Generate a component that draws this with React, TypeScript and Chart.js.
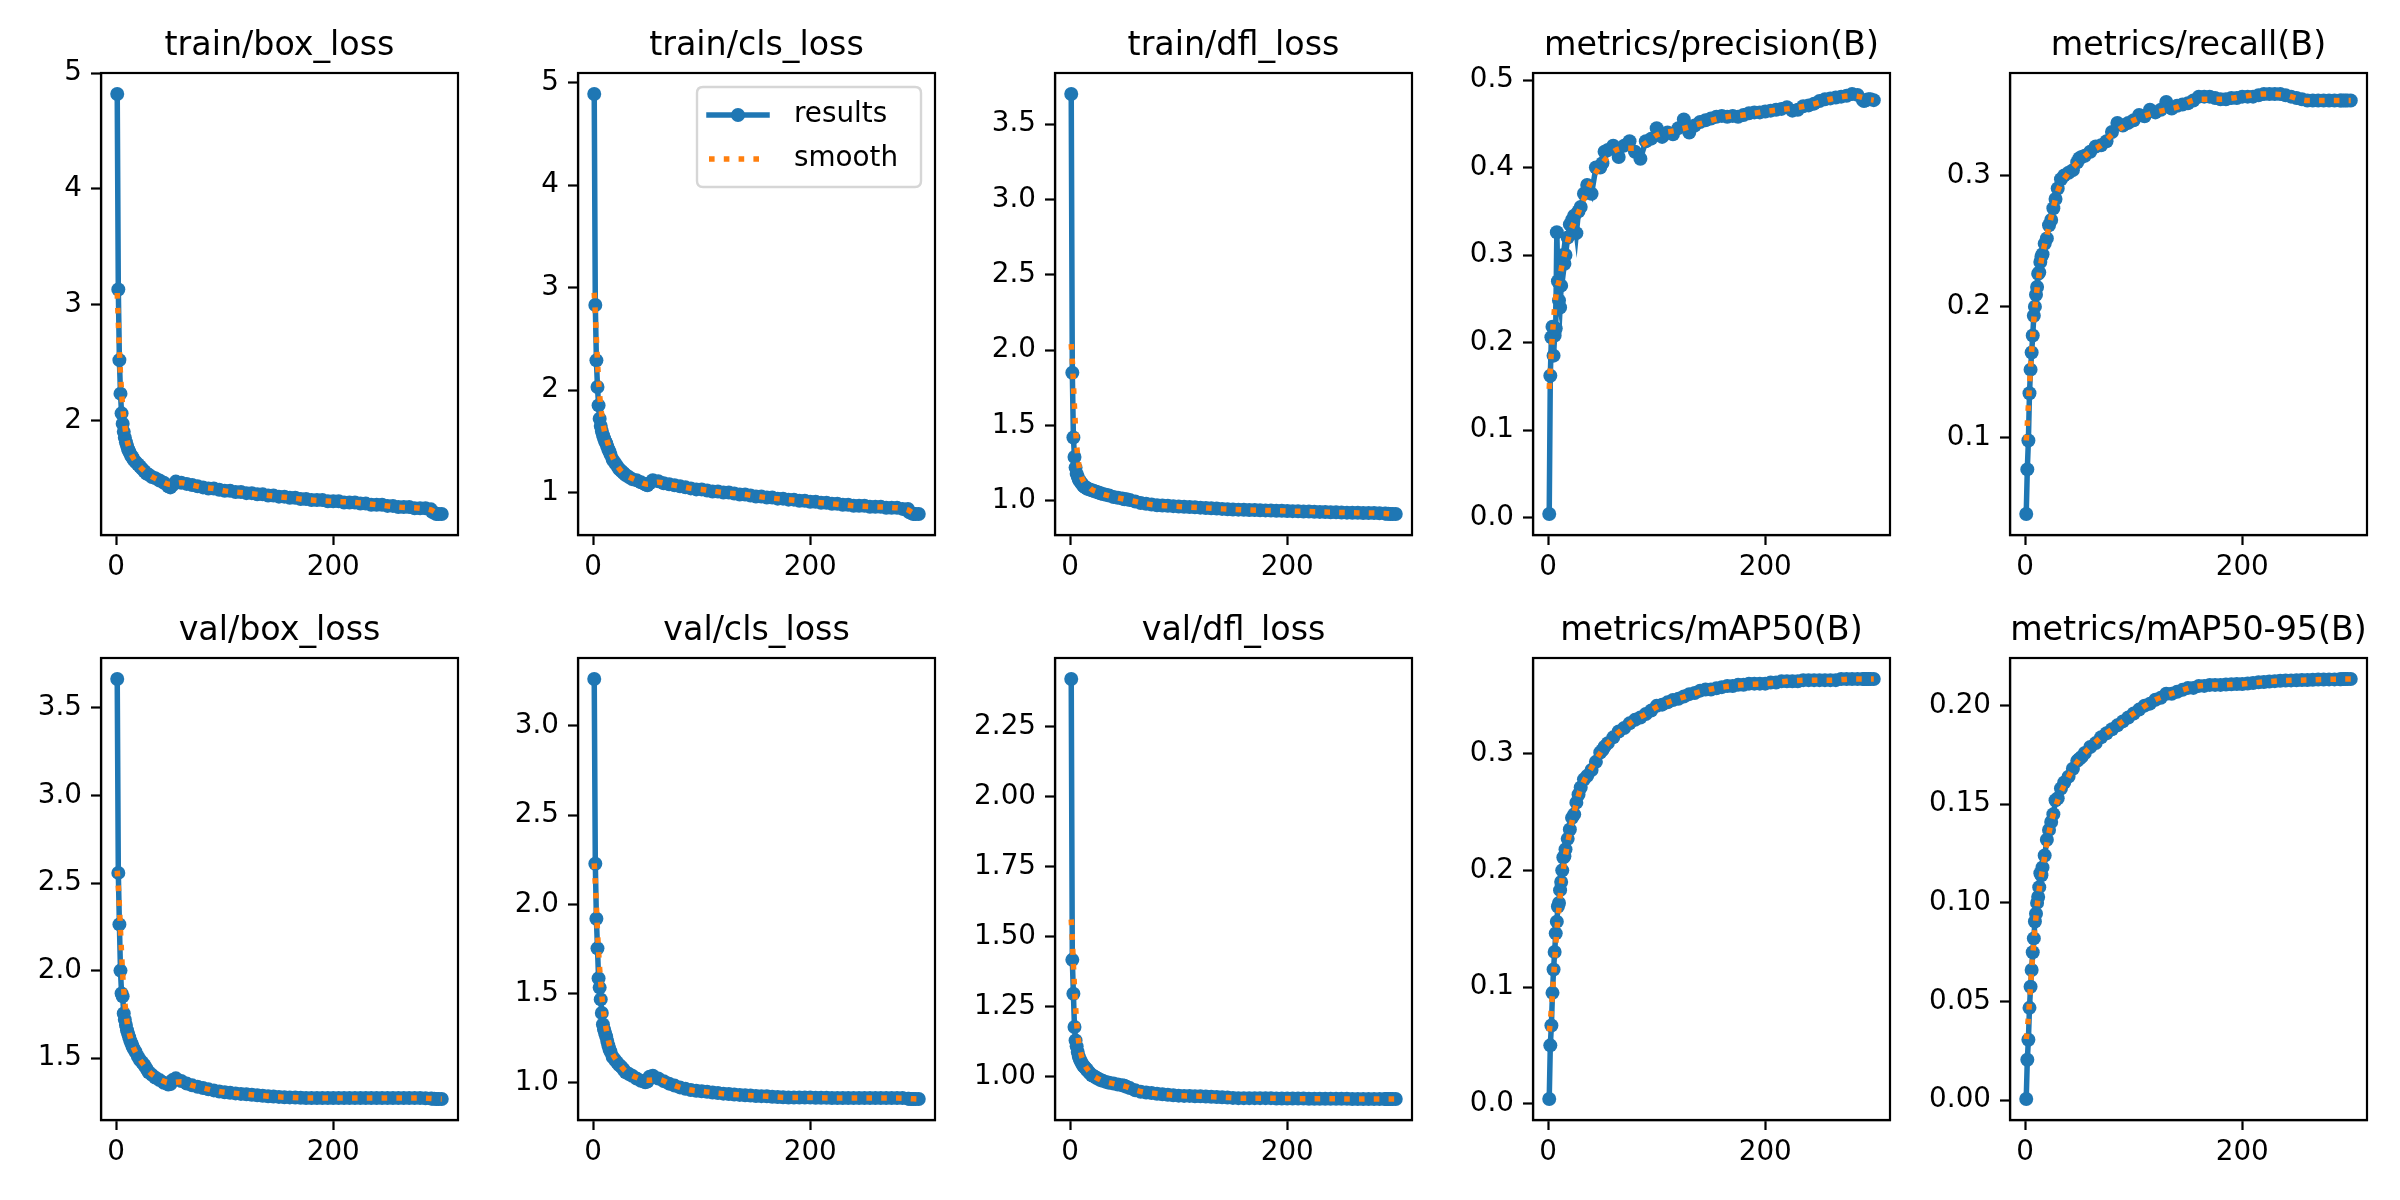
import React, { useEffect, useRef } from "react";
import { Chart, registerables } from "chart.js";

Chart.register(...registerables);
Chart.defaults.font.family = "'DejaVu Sans', sans-serif";

// ---------------- data ----------------
const EPOCHS = [
  1, 2, 3, 4, 5, 6, 7, 8, 9, 10, 11, 12, 13, 14, 15, 16,
  18, 20, 22, 24, 26, 28, 30,
  33, 36, 40, 44, 48, 50, 52, 55,
  60, 65, 70, 75, 80, 85, 90, 95, 100,
  105, 110, 115, 120, 125, 130, 135, 140, 145, 150,
  155, 160, 165, 170, 175, 180, 185, 190, 195, 200,
  205, 210, 215, 220, 225, 230, 235, 240, 245, 250,
  255, 260, 265, 270, 275, 280, 285, 290,
  291, 293, 295, 297, 300,
];

const SMOOTH_EPOCHS = [
  1, 2, 3, 4, 5, 6,
  8, 10, 13, 16, 20, 25, 30,
  40, 50, 60, 70, 80, 90, 100,
  120, 140, 160, 180, 200, 220, 240, 260, 280,
  290, 295, 300,
];

const TRAIN_BOX = [
  4.82, 3.13, 2.52, 2.23, 2.06, 1.97, 1.9, 1.85, 1.81, 1.78, 1.75, 1.73, 1.71, 1.69, 1.68, 1.66,
  1.64, 1.62, 1.6, 1.58, 1.56, 1.54, 1.53,
  1.51, 1.5, 1.48, 1.46, 1.43, 1.42, 1.44, 1.47,
  1.46, 1.45, 1.44, 1.43, 1.42, 1.41, 1.41, 1.4, 1.39,
  1.39, 1.38, 1.38, 1.37, 1.37, 1.36, 1.36, 1.35, 1.35, 1.34,
  1.34, 1.33, 1.33, 1.32, 1.32, 1.31, 1.31, 1.31, 1.3, 1.3,
  1.3, 1.29, 1.29, 1.29, 1.28, 1.28, 1.27, 1.27, 1.27, 1.26,
  1.26, 1.25, 1.25, 1.25, 1.24, 1.24, 1.24, 1.23,
  1.21, 1.2, 1.19, 1.19, 1.19,
];
const TRAIN_BOX_SMOOTH = [
  3.1, 2.85, 2.6, 2.4, 2.25, 2.12,
  1.95, 1.83, 1.73, 1.67, 1.62, 1.57, 1.53,
  1.48, 1.445, 1.46, 1.44, 1.42, 1.41, 1.39,
  1.37, 1.35, 1.33, 1.31, 1.3, 1.29, 1.27, 1.25, 1.24,
  1.225, 1.2, 1.19,
];

const TRAIN_CLS = [
  4.89, 2.83, 2.29, 2.03, 1.85, 1.72, 1.65, 1.6, 1.56, 1.53, 1.5, 1.48, 1.45, 1.42, 1.4, 1.37,
  1.32, 1.29, 1.26, 1.23, 1.21, 1.19, 1.17,
  1.15, 1.13, 1.12, 1.1, 1.08, 1.07, 1.09, 1.12,
  1.11, 1.09, 1.08, 1.07, 1.06, 1.05, 1.04, 1.03, 1.03,
  1.02, 1.01, 1.01, 1.0, 1.0, 0.99, 0.98, 0.98, 0.97, 0.96,
  0.96, 0.95, 0.95, 0.94, 0.94, 0.93, 0.93, 0.92, 0.92, 0.91,
  0.91, 0.9, 0.9, 0.89, 0.89, 0.88, 0.88, 0.87, 0.87, 0.87,
  0.86, 0.86, 0.86, 0.85, 0.85, 0.85, 0.84, 0.84,
  0.81, 0.8, 0.79, 0.79, 0.79,
];
const TRAIN_CLS_SMOOTH = [
  2.95, 2.75, 2.5, 2.28, 2.1, 1.95,
  1.75, 1.62, 1.5, 1.4, 1.3, 1.22, 1.17,
  1.12, 1.08, 1.1, 1.08, 1.06, 1.04, 1.03,
  1.0, 0.98, 0.95, 0.93, 0.91, 0.89, 0.87, 0.86, 0.85,
  0.83, 0.8, 0.79,
];

const TRAIN_DFL = [
  3.7, 1.85, 1.42, 1.29, 1.22, 1.18, 1.16, 1.14, 1.13, 1.12, 1.11, 1.1, 1.095, 1.09, 1.085, 1.08,
  1.075, 1.07, 1.065, 1.06, 1.055, 1.05, 1.045,
  1.04, 1.035, 1.025, 1.02, 1.015, 1.01, 1.01, 1.005,
  0.995, 0.985, 0.98, 0.975, 0.97, 0.968, 0.966, 0.964, 0.962,
  0.96, 0.958, 0.956, 0.954, 0.952, 0.95, 0.948, 0.946, 0.944, 0.942,
  0.941, 0.94, 0.939, 0.938, 0.937, 0.936, 0.935, 0.934, 0.933, 0.932,
  0.931, 0.93, 0.929, 0.928, 0.927, 0.926, 0.925, 0.924, 0.923, 0.922,
  0.921, 0.92, 0.92, 0.919, 0.918, 0.918, 0.917, 0.916,
  0.914, 0.913, 0.912, 0.912, 0.912,
];
const TRAIN_DFL_SMOOTH = [
  2.04, 1.93, 1.78, 1.62, 1.48, 1.37,
  1.24, 1.17, 1.12, 1.1, 1.075, 1.058, 1.045,
  1.025, 1.01, 0.995, 0.98, 0.97, 0.966, 0.962,
  0.954, 0.946, 0.94, 0.936, 0.932, 0.928, 0.924, 0.92, 0.918,
  0.915, 0.913, 0.912,
];

const PRECISION = [
  0.004, 0.162, 0.206, 0.218, 0.185, 0.208, 0.216, 0.326, 0.27, 0.248, 0.24, 0.265, 0.29, 0.3, 0.29, 0.3,
  0.32, 0.335, 0.34, 0.345, 0.325, 0.35, 0.355,
  0.37, 0.38, 0.37, 0.4, 0.4, 0.405, 0.418, 0.42,
  0.425, 0.412, 0.425, 0.43, 0.418, 0.41, 0.43, 0.433, 0.445,
  0.435, 0.44, 0.438, 0.445, 0.455, 0.44, 0.448, 0.452, 0.454, 0.456,
  0.458, 0.459, 0.458, 0.459, 0.458, 0.46, 0.462, 0.463, 0.463, 0.464,
  0.465, 0.466, 0.467, 0.469, 0.465, 0.466, 0.47, 0.471, 0.473, 0.476,
  0.478, 0.479, 0.48, 0.481, 0.482, 0.484, 0.483, 0.477,
  0.476, 0.477, 0.478, 0.478, 0.477,
];
const PRECISION_SMOOTH = [
  0.147, 0.17, 0.19, 0.21, 0.225, 0.24,
  0.26, 0.27, 0.29, 0.305, 0.325, 0.34, 0.355,
  0.385, 0.405, 0.418, 0.422, 0.422, 0.428, 0.437,
  0.443, 0.45, 0.457, 0.46, 0.464, 0.467, 0.471, 0.478, 0.482,
  0.48, 0.478, 0.477,
];

const RECALL = [
  0.042, 0.076, 0.098, 0.134, 0.152, 0.165, 0.178, 0.193, 0.2, 0.209, 0.215, 0.225, 0.226, 0.234, 0.238, 0.24,
  0.248, 0.252, 0.262, 0.266, 0.275, 0.282, 0.29,
  0.297, 0.3, 0.302, 0.304, 0.31, 0.313, 0.314, 0.315,
  0.318, 0.322, 0.323, 0.326, 0.333, 0.34, 0.338, 0.34, 0.342,
  0.346, 0.345, 0.35, 0.348, 0.35, 0.356, 0.351, 0.353, 0.354, 0.355,
  0.357, 0.36, 0.36, 0.36, 0.359, 0.358, 0.358, 0.359, 0.359, 0.36,
  0.36, 0.36, 0.361, 0.362, 0.362, 0.362, 0.362, 0.361, 0.36, 0.359,
  0.358, 0.357, 0.357, 0.357, 0.357, 0.357, 0.357, 0.357,
  0.357, 0.357, 0.357, 0.357, 0.357,
];
const RECALL_SMOOTH = [
  0.098, 0.11, 0.125, 0.14, 0.153, 0.166,
  0.19, 0.207, 0.225, 0.24, 0.254, 0.272, 0.288,
  0.302, 0.311, 0.318, 0.323, 0.331, 0.337, 0.342,
  0.348, 0.352, 0.358, 0.358, 0.36, 0.362, 0.361, 0.357, 0.357,
  0.357, 0.357, 0.357,
];

const VAL_BOX = [
  3.665, 2.558, 2.264, 2.0, 1.87, 1.853, 1.755, 1.72, 1.69, 1.66, 1.64, 1.62, 1.6, 1.585, 1.57, 1.555,
  1.535, 1.51, 1.49, 1.475, 1.46, 1.44, 1.42,
  1.405, 1.39, 1.375, 1.36, 1.35, 1.352, 1.375, 1.385,
  1.37, 1.355, 1.345, 1.337, 1.33, 1.322, 1.316, 1.31, 1.305,
  1.302, 1.299, 1.296, 1.294, 1.291, 1.288, 1.285, 1.283, 1.281, 1.279,
  1.277, 1.276, 1.275, 1.274, 1.273, 1.272, 1.272, 1.272, 1.272, 1.272,
  1.272, 1.272, 1.272, 1.272, 1.272, 1.272, 1.272, 1.272, 1.272, 1.272,
  1.272, 1.272, 1.272, 1.272, 1.272, 1.272, 1.271, 1.27,
  1.269, 1.268, 1.267, 1.267, 1.267,
];
const VAL_BOX_SMOOTH = [
  2.57, 2.48, 2.37, 2.23, 2.1, 1.98,
  1.82, 1.71, 1.62, 1.56, 1.51, 1.465, 1.425,
  1.38, 1.36, 1.365, 1.345, 1.33, 1.316, 1.305,
  1.294, 1.283, 1.276, 1.272, 1.272, 1.272, 1.272, 1.272, 1.272,
  1.27, 1.268, 1.267,
];

const VAL_CLS = [
  3.263, 2.228, 1.92, 1.754, 1.586, 1.534, 1.468, 1.392, 1.328, 1.3, 1.28, 1.26, 1.235, 1.21, 1.19, 1.175,
  1.145, 1.13, 1.115, 1.1, 1.09, 1.075, 1.06,
  1.05, 1.04, 1.025, 1.012, 1.004, 1.008, 1.035, 1.04,
  1.025, 1.01, 0.996, 0.985, 0.975, 0.967, 0.96, 0.956, 0.953,
  0.95, 0.946, 0.943, 0.94, 0.938, 0.935, 0.933, 0.931, 0.929, 0.927,
  0.926, 0.925, 0.923, 0.921, 0.92, 0.918, 0.918, 0.918, 0.918, 0.918,
  0.917, 0.917, 0.917, 0.916, 0.916, 0.916, 0.916, 0.916, 0.916, 0.916,
  0.916, 0.916, 0.915, 0.915, 0.915, 0.915, 0.915, 0.912,
  0.911, 0.91, 0.91, 0.91, 0.91,
];
const VAL_CLS_SMOOTH = [
  2.23, 2.12, 1.99, 1.85, 1.74, 1.64,
  1.49, 1.38, 1.27, 1.19, 1.14, 1.1, 1.065,
  1.03, 1.015, 1.02, 0.998, 0.975, 0.96, 0.953,
  0.94, 0.931, 0.925, 0.918, 0.918, 0.916, 0.916, 0.916, 0.915,
  0.913, 0.911, 0.91,
];

const VAL_DFL = [
  2.419, 1.416, 1.295, 1.176, 1.128, 1.107, 1.087, 1.07, 1.06, 1.052, 1.045, 1.038, 1.034, 1.03, 1.025, 1.021,
  1.012, 1.004, 1.0, 0.995, 0.991, 0.987, 0.984,
  0.98, 0.977, 0.974, 0.971, 0.968, 0.966, 0.963, 0.958,
  0.95, 0.945, 0.942, 0.94, 0.938, 0.936, 0.934, 0.932, 0.931,
  0.93, 0.93, 0.929, 0.929, 0.928, 0.927, 0.926, 0.925, 0.924, 0.923,
  0.922, 0.922, 0.922, 0.922, 0.922, 0.922, 0.922, 0.921, 0.921, 0.921,
  0.921, 0.921, 0.921, 0.92, 0.92, 0.92, 0.92, 0.92, 0.92, 0.92,
  0.92, 0.919, 0.919, 0.919, 0.919, 0.919, 0.919, 0.919,
  0.919, 0.919, 0.919, 0.919, 0.919,
];
const VAL_DFL_SMOOTH = [
  1.56, 1.49, 1.4, 1.32, 1.25, 1.19,
  1.12, 1.08, 1.045, 1.025, 1.006, 0.993, 0.984,
  0.974, 0.965, 0.951, 0.942, 0.938, 0.934, 0.931,
  0.929, 0.925, 0.922, 0.922, 0.921, 0.92, 0.92, 0.919, 0.919,
  0.919, 0.919, 0.919,
];

const MAP50 = [
  0.004, 0.05, 0.067, 0.095, 0.115, 0.13, 0.146, 0.156, 0.169, 0.172, 0.183, 0.19, 0.2, 0.211, 0.212, 0.218,
  0.227, 0.235, 0.245, 0.248, 0.258, 0.265, 0.271,
  0.278, 0.281, 0.286, 0.293, 0.301, 0.303, 0.306, 0.309,
  0.314, 0.319, 0.322, 0.326, 0.329, 0.331, 0.334, 0.337, 0.341,
  0.342, 0.344, 0.346, 0.347, 0.349, 0.351, 0.352, 0.354, 0.355, 0.355,
  0.356, 0.357, 0.358, 0.358, 0.359, 0.359, 0.36, 0.36, 0.36, 0.36,
  0.361, 0.361, 0.362, 0.362, 0.362, 0.362, 0.363, 0.363, 0.363, 0.363,
  0.363, 0.363, 0.363, 0.364, 0.364, 0.364, 0.364, 0.364,
  0.364, 0.364, 0.364, 0.364, 0.364,
];
const MAP50_SMOOTH = [
  0.062, 0.07, 0.082, 0.095, 0.108, 0.122,
  0.148, 0.168, 0.194, 0.213, 0.233, 0.254, 0.27,
  0.288, 0.303, 0.314, 0.322, 0.329, 0.334, 0.34,
  0.347, 0.353, 0.357, 0.359, 0.36, 0.362, 0.363, 0.363, 0.364,
  0.364, 0.364, 0.364,
];

const MAP50_95 = [
  0.0006, 0.0205, 0.0306, 0.0468, 0.0575, 0.066, 0.075, 0.082, 0.0906, 0.0945, 0.1, 0.103, 0.108, 0.115, 0.114, 0.118,
  0.124, 0.132, 0.137, 0.141, 0.145, 0.152, 0.153,
  0.158, 0.161, 0.164, 0.168, 0.172, 0.173, 0.174, 0.176,
  0.179, 0.181, 0.184, 0.186, 0.188, 0.19, 0.192, 0.194, 0.196,
  0.198, 0.2, 0.201, 0.203, 0.204, 0.206, 0.206, 0.207, 0.208, 0.209,
  0.209, 0.21, 0.21, 0.2105, 0.2105, 0.2105, 0.2107, 0.2108, 0.211, 0.211,
  0.2112, 0.2115, 0.2118, 0.212, 0.2122, 0.2124, 0.2126, 0.2127, 0.2128, 0.2129,
  0.213, 0.213, 0.2131, 0.2132, 0.2132, 0.2133, 0.2133, 0.2134,
  0.2134, 0.2135, 0.2135, 0.2135, 0.2135,
];
const MAP50_95_SMOOTH = [
  0.031, 0.036, 0.042, 0.05, 0.058, 0.066,
  0.08, 0.093, 0.107, 0.117, 0.13, 0.143, 0.152,
  0.164, 0.173, 0.179, 0.184, 0.188, 0.192, 0.196,
  0.203, 0.207, 0.21, 0.2105, 0.211, 0.212, 0.2127, 0.213, 0.2133,
  0.2134, 0.2135, 0.2135,
];

const TITLES = [
  "train/box_loss", "train/cls_loss", "train/dfl_loss", "metrics/precision(B)", "metrics/recall(B)",
  "val/box_loss", "val/cls_loss", "val/dfl_loss", "metrics/mAP50(B)", "metrics/mAP50-95(B)",
];

const X_TICKS = [0, 200];
const Y_TICKS_TRAIN_BOX = [2, 3, 4, 5];
const Y_TICKS_TRAIN_CLS = [1, 2, 3, 4, 5];
const Y_TICKS_TRAIN_DFL = [1.0, 1.5, 2.0, 2.5, 3.0, 3.5];
const Y_TICKS_PRECISION = [0.0, 0.1, 0.2, 0.3, 0.4, 0.5];
const Y_TICKS_RECALL = [0.1, 0.2, 0.3];
const Y_TICKS_VAL_BOX = [1.5, 2.0, 2.5, 3.0, 3.5];
const Y_TICKS_VAL_CLS = [1.0, 1.5, 2.0, 2.5, 3.0];
const Y_TICKS_VAL_DFL = [1.0, 1.25, 1.5, 1.75, 2.0, 2.25];
const Y_TICKS_MAP50 = [0.0, 0.1, 0.2, 0.3];
const Y_TICKS_MAP50_95 = [0.0, 0.05, 0.1, 0.15, 0.2];
const Y_DECIMALS = [0, 0, 1, 1, 1, 1, 1, 2, 1, 2];

const SERIES = [TRAIN_BOX, TRAIN_CLS, TRAIN_DFL, PRECISION, RECALL, VAL_BOX, VAL_CLS, VAL_DFL, MAP50, MAP50_95];
const SMOOTHS = [
  TRAIN_BOX_SMOOTH, TRAIN_CLS_SMOOTH, TRAIN_DFL_SMOOTH, PRECISION_SMOOTH, RECALL_SMOOTH,
  VAL_BOX_SMOOTH, VAL_CLS_SMOOTH, VAL_DFL_SMOOTH, MAP50_SMOOTH, MAP50_95_SMOOTH,
];
const Y_TICKS = [
  Y_TICKS_TRAIN_BOX, Y_TICKS_TRAIN_CLS, Y_TICKS_TRAIN_DFL, Y_TICKS_PRECISION, Y_TICKS_RECALL,
  Y_TICKS_VAL_BOX, Y_TICKS_VAL_CLS, Y_TICKS_VAL_DFL, Y_TICKS_MAP50, Y_TICKS_MAP50_95,
];

// ---------------- styling / layout ----------------
const BLUE = "#1f77b4";
const ORANGE = "#ff7f0e";
const TICK_FONT = 27.8;
const TITLE_FONT = 33.3;
const LINE_W = 5.5;
const POINT_R = 7;
const AXIS_LEFTS = [101, 578, 1055, 1533, 2010];
const AXIS_W = 357;
const AXIS_H = 462;
const ROW_TOPS = [0, 600]; // canvas tops
const AREA_TOPS = [73, 58]; // chart-area top inside canvas
const Y_AXIS_W = 100;
const X_AXIS_H = 65;
const RIGHT_PAD = 20;

function limits(vals: number[]): [number, number] {
  const lo = Math.min(...vals);
  const hi = Math.max(...vals);
  const m = (hi - lo) * 0.05;
  return [lo - m, hi + m];
}

const spinesPlugin = {
  id: "spines",
  afterDatasetsDraw(chart: any) {
    const { ctx, chartArea: a } = chart;
    ctx.save();
    ctx.strokeStyle = "#000";
    ctx.lineWidth = 2.2;
    ctx.setLineDash([]);
    ctx.strokeRect(a.left, a.top, a.right - a.left, a.bottom - a.top);
    ctx.restore();
  },
};

const boxLegendPlugin = {
  id: "boxLegend",
  afterDatasetsDraw(chart: any) {
    const { ctx, chartArea: a } = chart;
    const w = 224;
    const h = 100;
    const x0 = a.right - 14 - w;
    const y0 = a.top + 14;
    const r = 6;
    ctx.save();
    ctx.beginPath();
    ctx.moveTo(x0 + r, y0);
    ctx.lineTo(x0 + w - r, y0);
    ctx.quadraticCurveTo(x0 + w, y0, x0 + w, y0 + r);
    ctx.lineTo(x0 + w, y0 + h - r);
    ctx.quadraticCurveTo(x0 + w, y0 + h, x0 + w - r, y0 + h);
    ctx.lineTo(x0 + r, y0 + h);
    ctx.quadraticCurveTo(x0, y0 + h, x0, y0 + h - r);
    ctx.lineTo(x0, y0 + r);
    ctx.quadraticCurveTo(x0, y0, x0 + r, y0);
    ctx.closePath();
    ctx.fillStyle = "rgba(255,255,255,0.8)";
    ctx.fill();
    ctx.strokeStyle = "#d6d6d6";
    ctx.lineWidth = 2.4;
    ctx.stroke();
    const datasets = chart.data.datasets;
    datasets.forEach((ds: any, i: number) => {
      const cy = y0 + 28 + i * 44;
      ctx.beginPath();
      ctx.strokeStyle = ds.borderColor;
      ctx.lineWidth = ds.borderWidth;
      ctx.setLineDash(ds.borderDash || []);
      ctx.lineCap = ds.borderDash ? "butt" : "square";
      ctx.moveTo(x0 + 12, cy);
      ctx.lineTo(x0 + 70, cy);
      ctx.stroke();
      ctx.setLineDash([]);
      if (ds.pointRadius > 0) {
        ctx.beginPath();
        ctx.fillStyle = ds.pointBackgroundColor;
        ctx.arc(x0 + 41, cy, ds.pointRadius, 0, Math.PI * 2);
        ctx.fill();
      }
      ctx.fillStyle = "#000";
      ctx.font = `${TICK_FONT}px 'DejaVu Sans', sans-serif`;
      ctx.textAlign = "left";
      ctx.textBaseline = "middle";
      ctx.fillText(ds.label, x0 + 97, cy);
    });
    ctx.restore();
  },
};

function makeConfig(idx: number, areaTop: number): any {
  const values = SERIES[idx];
  const smooth = SMOOTHS[idx];
  const [ymin, ymax] = limits(values.concat(smooth));
  const [xmin, xmax] = limits(EPOCHS.concat(SMOOTH_EPOCHS));
  const yTicks = Y_TICKS[idx];
  const dec = Y_DECIMALS[idx];
  const titlePadTop = areaTop - 27 - 20;
  const titlePadBottom = areaTop - titlePadTop - TITLE_FONT * 1.2;

  const axisCommon = {
    grid: {
      display: true,
      drawOnChartArea: false,
      drawTicks: true,
      tickLength: 10,
      tickWidth: 2.2,
      tickColor: "#000",
      color: "#000",
    },
    border: { display: true, color: "#000", width: 2.2 },
  };

  const plugins: any[] = [spinesPlugin];
  if (idx === 1) plugins.push(boxLegendPlugin);

  return {
    type: "line",
    data: {
      datasets: [
        {
          label: "results",
          data: EPOCHS.map((x, i) => ({ x, y: values[i] })),
          borderColor: BLUE,
          backgroundColor: BLUE,
          pointBackgroundColor: BLUE,
          pointBorderColor: BLUE,
          pointBorderWidth: 0,
          pointRadius: POINT_R,
          pointHoverRadius: POINT_R,
          borderWidth: LINE_W,
          tension: 0,
          order: 2,
        },
        {
          label: "smooth",
          data: SMOOTH_EPOCHS.map((x, i) => ({ x, y: smooth[i] })),
          borderColor: ORANGE,
          backgroundColor: ORANGE,
          borderWidth: LINE_W,
          borderDash: [5.6, 9.2],
          borderCapStyle: "butt",
          pointRadius: 0,
          pointHoverRadius: 0,
          cubicInterpolationMode: "monotone",
          order: 1,
        },
      ],
    },
    options: {
      animation: false,
      responsive: false,
      events: [],
      layout: { padding: { top: titlePadTop, right: RIGHT_PAD, bottom: 0, left: 0 } },
      plugins: {
        legend: { display: false },
        tooltip: { enabled: false },
        title: {
          display: true,
          text: TITLES[idx],
          fullSize: false,
          color: "#000",
          font: { size: TITLE_FONT, weight: "normal", lineHeight: 1.2 },
          padding: { top: 0, bottom: titlePadBottom },
        },
      },
      scales: {
        x: {
          type: "linear",
          min: xmin,
          max: xmax,
          afterBuildTicks: (s: any) => {
            s.ticks = X_TICKS.map((v) => ({ value: v }));
          },
          afterFit: (s: any) => {
            s.height = X_AXIS_H;
          },
          ticks: {
            color: "#000",
            font: { size: TICK_FONT },
            padding: 6,
            maxRotation: 0,
            autoSkip: false,
            callback: (v: any) => String(v),
          },
          ...axisCommon,
        },
        y: {
          type: "linear",
          min: ymin,
          max: ymax,
          afterBuildTicks: (s: any) => {
            s.ticks = yTicks.map((v) => ({ value: v }));
          },
          afterFit: (s: any) => {
            s.width = Y_AXIS_W;
          },
          ticks: {
            color: "#000",
            font: { size: TICK_FONT },
            padding: 9,
            autoSkip: false,
            callback: (v: any) => Number(v).toFixed(dec),
          },
          ...axisCommon,
        },
      },
    },
    plugins,
  };
}

function Panel({ idx }: { idx: number }) {
  const ref = useRef<HTMLCanvasElement | null>(null);
  const row = Math.floor(idx / 5);
  const col = idx % 5;
  const areaTop = AREA_TOPS[row];
  const canvasH = areaTop + AXIS_H + X_AXIS_H;
  const canvasW = Y_AXIS_W + AXIS_W + RIGHT_PAD;
  const left = AXIS_LEFTS[col] - Y_AXIS_W;
  const top = ROW_TOPS[row];

  useEffect(() => {
    if (!ref.current) return;
    const chart = new Chart(ref.current, makeConfig(idx, areaTop));
    return () => chart.destroy();
  }, [idx]);

  return (
    <canvas
      ref={ref}
      width={canvasW}
      height={canvasH}
      style={{ position: "absolute", left, top, width: canvasW, height: canvasH }}
    />
  );
}

export default function App() {
  return (
    <div
      style={{
        position: "absolute",
        left: 0,
        top: 0,
        width: 2400,
        height: 1200,
        background: "#fff",
        overflow: "hidden",
      }}
    >
      {TITLES.map((_, i) => (
        <Panel key={i} idx={i} />
      ))}
    </div>
  );
}
